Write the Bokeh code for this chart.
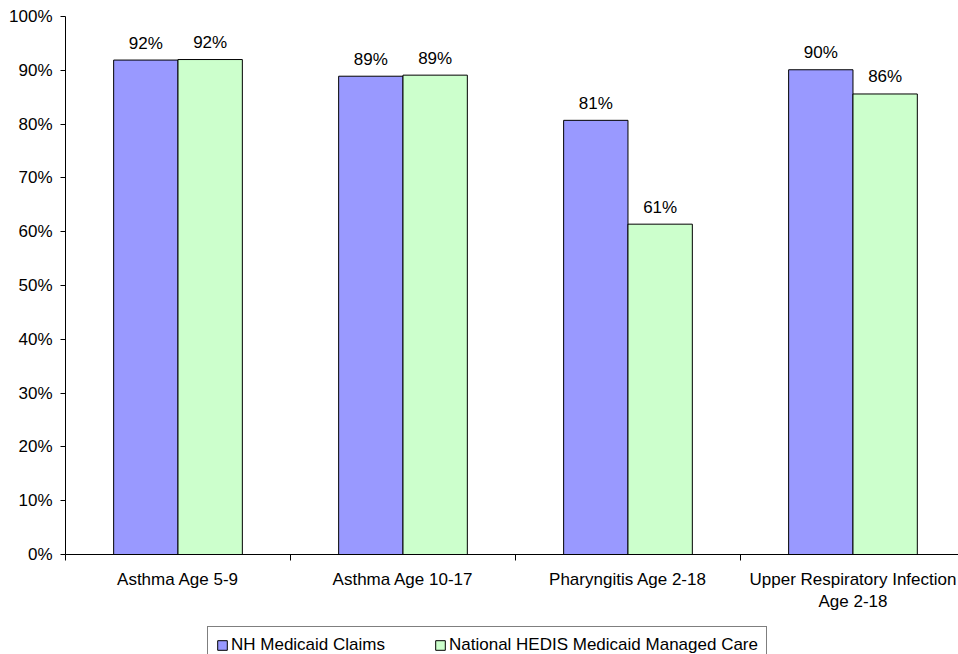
from bokeh.plotting import figure
from bokeh.layouts import column
from bokeh.models import (ColumnDataSource, Range1d, FixedTicker, PrintfTickFormatter,
                          Legend, LegendItem, LinearAxis)
from bokeh.core.properties import value
from bokeh.embed import file_html
from bokeh.resources import INLINE

# Measure categories and the two series (percent of members)
categories = [
    "Asthma Age 5-9",
    "Asthma Age 10-17",
    "Pharyngitis Age 2-18",
    "Upper Respiratory Infection\nAge 2-18",
]
nh_claims = [91.9, 88.9, 80.7, 90.1]
hedis_mmc = [92.0, 89.1, 61.4, 85.6]
series_names = ["NH Medicaid Claims", "National HEDIS Medicaid Managed Care"]
y_ticks = list(range(0, 101, 10))

FONT = "Liberation Sans"
FONT_SIZE = "17px"
BAR_W = 0.286
BLUE = "#9999FF"
GREEN = "#CCFFCC"

centers = [i + 0.5 for i in range(len(categories))]


def source(values, shift):
    return ColumnDataSource(dict(
        x=[c + shift for c in centers],
        top=values,
        label=[f"{round(v)}%" for v in values],
    ))


src_nh = source(nh_claims, -BAR_W / 2)
src_hedis = source(hedis_mmc, BAR_W / 2)

p = figure(width=958, height=624, output_backend="svg", toolbar_location=None,
           x_range=Range1d(0, 3.969), y_range=Range1d(0, 100),
           x_axis_type=None, y_axis_type=None,
           min_border_left=65, min_border_right=0,
           min_border_top=16, min_border_bottom=70)
p.outline_line_color = None
p.background_fill_color = "white"
p.border_fill_color = "white"

bar_style = dict(bottom=0, width=BAR_W, line_color="black", line_width=1)
p.vbar(x="x", top="top", source=src_nh, fill_color=BLUE, **bar_style)
p.vbar(x="x", top="top", source=src_hedis, fill_color=GREEN, **bar_style)

for src in (src_nh, src_hedis):
    p.text(x="x", y="top", text="label", source=src,
           text_align="center", text_baseline="alphabetic", y_offset=-17,
           text_font=value(FONT), text_font_size=FONT_SIZE, text_color="black")

# Category axis: labels at group centres, tick marks at group boundaries
xaxis = LinearAxis(
    ticker=FixedTicker(ticks=centers, minor_ticks=list(range(len(categories) + 1))),
    major_label_overrides={c: lab for c, lab in zip(centers, categories)},
    major_tick_out=0, major_tick_in=0,
    minor_tick_out=6, minor_tick_in=0,
    axis_line_color="black", minor_tick_line_color="black",
    major_label_standoff=9,
    major_label_text_font=FONT, major_label_text_font_size=FONT_SIZE,
    major_label_text_color="black",
)
p.add_layout(xaxis, "below")

yaxis = LinearAxis(
    ticker=FixedTicker(ticks=y_ticks),
    formatter=PrintfTickFormatter(format="%d%%"),
    major_tick_out=5, major_tick_in=0,
    minor_tick_out=0, minor_tick_in=0,
    axis_line_color="black", major_tick_line_color="black",
    major_label_standoff=8,
    major_label_text_font=FONT, major_label_text_font_size=FONT_SIZE,
    major_label_text_color="black",
)
p.add_layout(yaxis, "left")

# Legend strip underneath the chart; its key renderers share the bar
# sources but lie entirely outside this strip's visible ranges.
lg = figure(width=958, height=30, output_backend="svg", toolbar_location=None,
            x_range=Range1d(10, 11), y_range=Range1d(500, 600),
            x_axis_type=None, y_axis_type=None,
            min_border_left=0, min_border_right=0,
            min_border_top=0, min_border_bottom=0)
lg.outline_line_color = None
lg.border_fill_color = "white"
key_nh = lg.vbar(x="x", top="top", source=src_nh, fill_color=BLUE, **bar_style)
key_hedis = lg.vbar(x="x", top="top", source=src_hedis, fill_color=GREEN, **bar_style)

legend = Legend(
    items=[LegendItem(label=series_names[0], renderers=[key_nh]),
           LegendItem(label=series_names[1], renderers=[key_hedis])],
    location=(142, -9.5), orientation="horizontal",
    padding=8, spacing=49, margin=0,
    glyph_width=12, glyph_height=12, label_standoff=3, label_height=20,
    border_line_color="black", border_line_width=1,
    background_fill_color="white", background_fill_alpha=1,
    label_text_font=FONT, label_text_font_size=FONT_SIZE, label_text_color="black",
)
lg.add_layout(legend)

layout = column(p, lg, spacing=0)
open("out.html", "w").write(file_html(layout, INLINE))
